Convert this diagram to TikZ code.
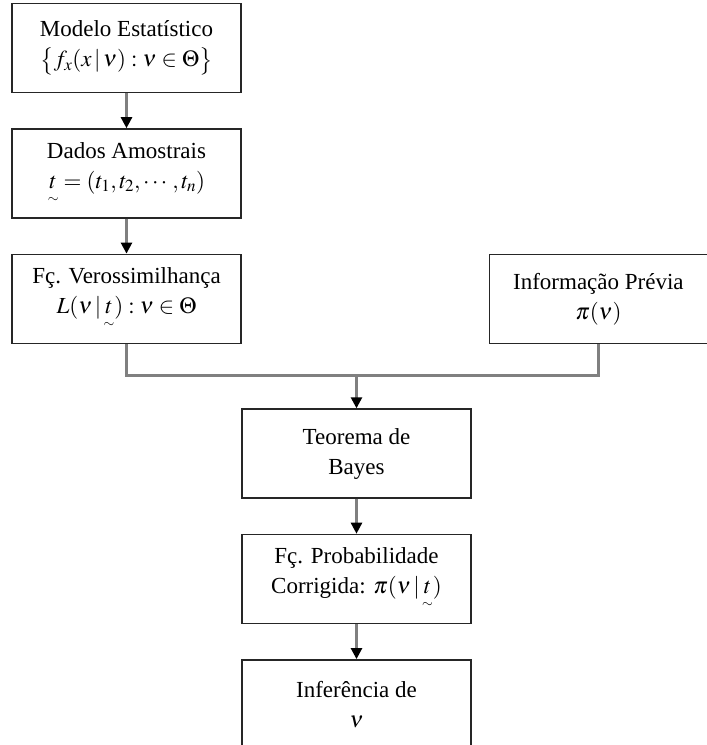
\documentclass[tikz,border=0pt]{standalone}
\usepackage{amsmath}
\usepackage{mathptmx}
\usepackage{fontspec}
\setmainfont{Liberation Serif}
\usetikzlibrary{positioning,arrows.meta}

% t with a small tilde underneath
\newcommand{\vt}{\underset{\scriptscriptstyle\sim}{t}}

\tikzset{
    blk/.style={draw=black!85, line width=1.4pt, fill=white, inner sep=0pt,
        minimum width=229pt, minimum height=89pt, align=center,
        font=\fontsize{23}{30}\selectfont},
    link/.style={draw=black!50, line width=2.5pt},
    conn/.style={link, -{Triangle[length=11pt,width=11pt,color=black]}},
}

\begin{document}
\begin{tikzpicture}
    \useasboundingbox (0,0) rectangle (707pt,-745pt);

    % left column
    \node[blk] (model) at (126.5pt,-48pt) {Modelo Estatístico\\ $\bigl\{f_x(x\,|\,\nu):\nu\in\Theta\bigr\}$};
    \node[blk, below=35pt of model] (dados) {Dados Amostrais\\ $\vt=(t_1,t_2,\cdots,t_n)$};
    \node[blk, below=35pt of dados] (veros) {Fç. Verossimilhança\\ $L(\nu\,|\,\vt):\nu\in\Theta$};
    \node[blk, minimum width=218pt, right=247pt of veros] (prior) {Informação Prévia\\ $\pi(\nu)$};

    % centre column
    \node[blk] (bayes) at (356.5pt,-453.5pt) {Teorema de\\ Bayes};
    \node[blk, below=35pt of bayes] (post) {Fç. Probabilidade\\ Corrigida: $\pi(\nu\,|\,\vt)$};
    \node[blk, below=35pt of post] (infer) {Inferência de\\ $\nu$};
    \coordinate[above=33pt of bayes] (junc);

    \draw[conn] (model) -- (dados);
    \draw[conn] (dados) -- (veros);
    \draw[link] (veros.south) |- (junc) -| (prior.south); % join the two branches
    \draw[conn] (junc) -- (bayes);
    \draw[conn] (bayes) -- (post);
    \draw[conn] (post) -- (infer);
\end{tikzpicture}
\end{document}
